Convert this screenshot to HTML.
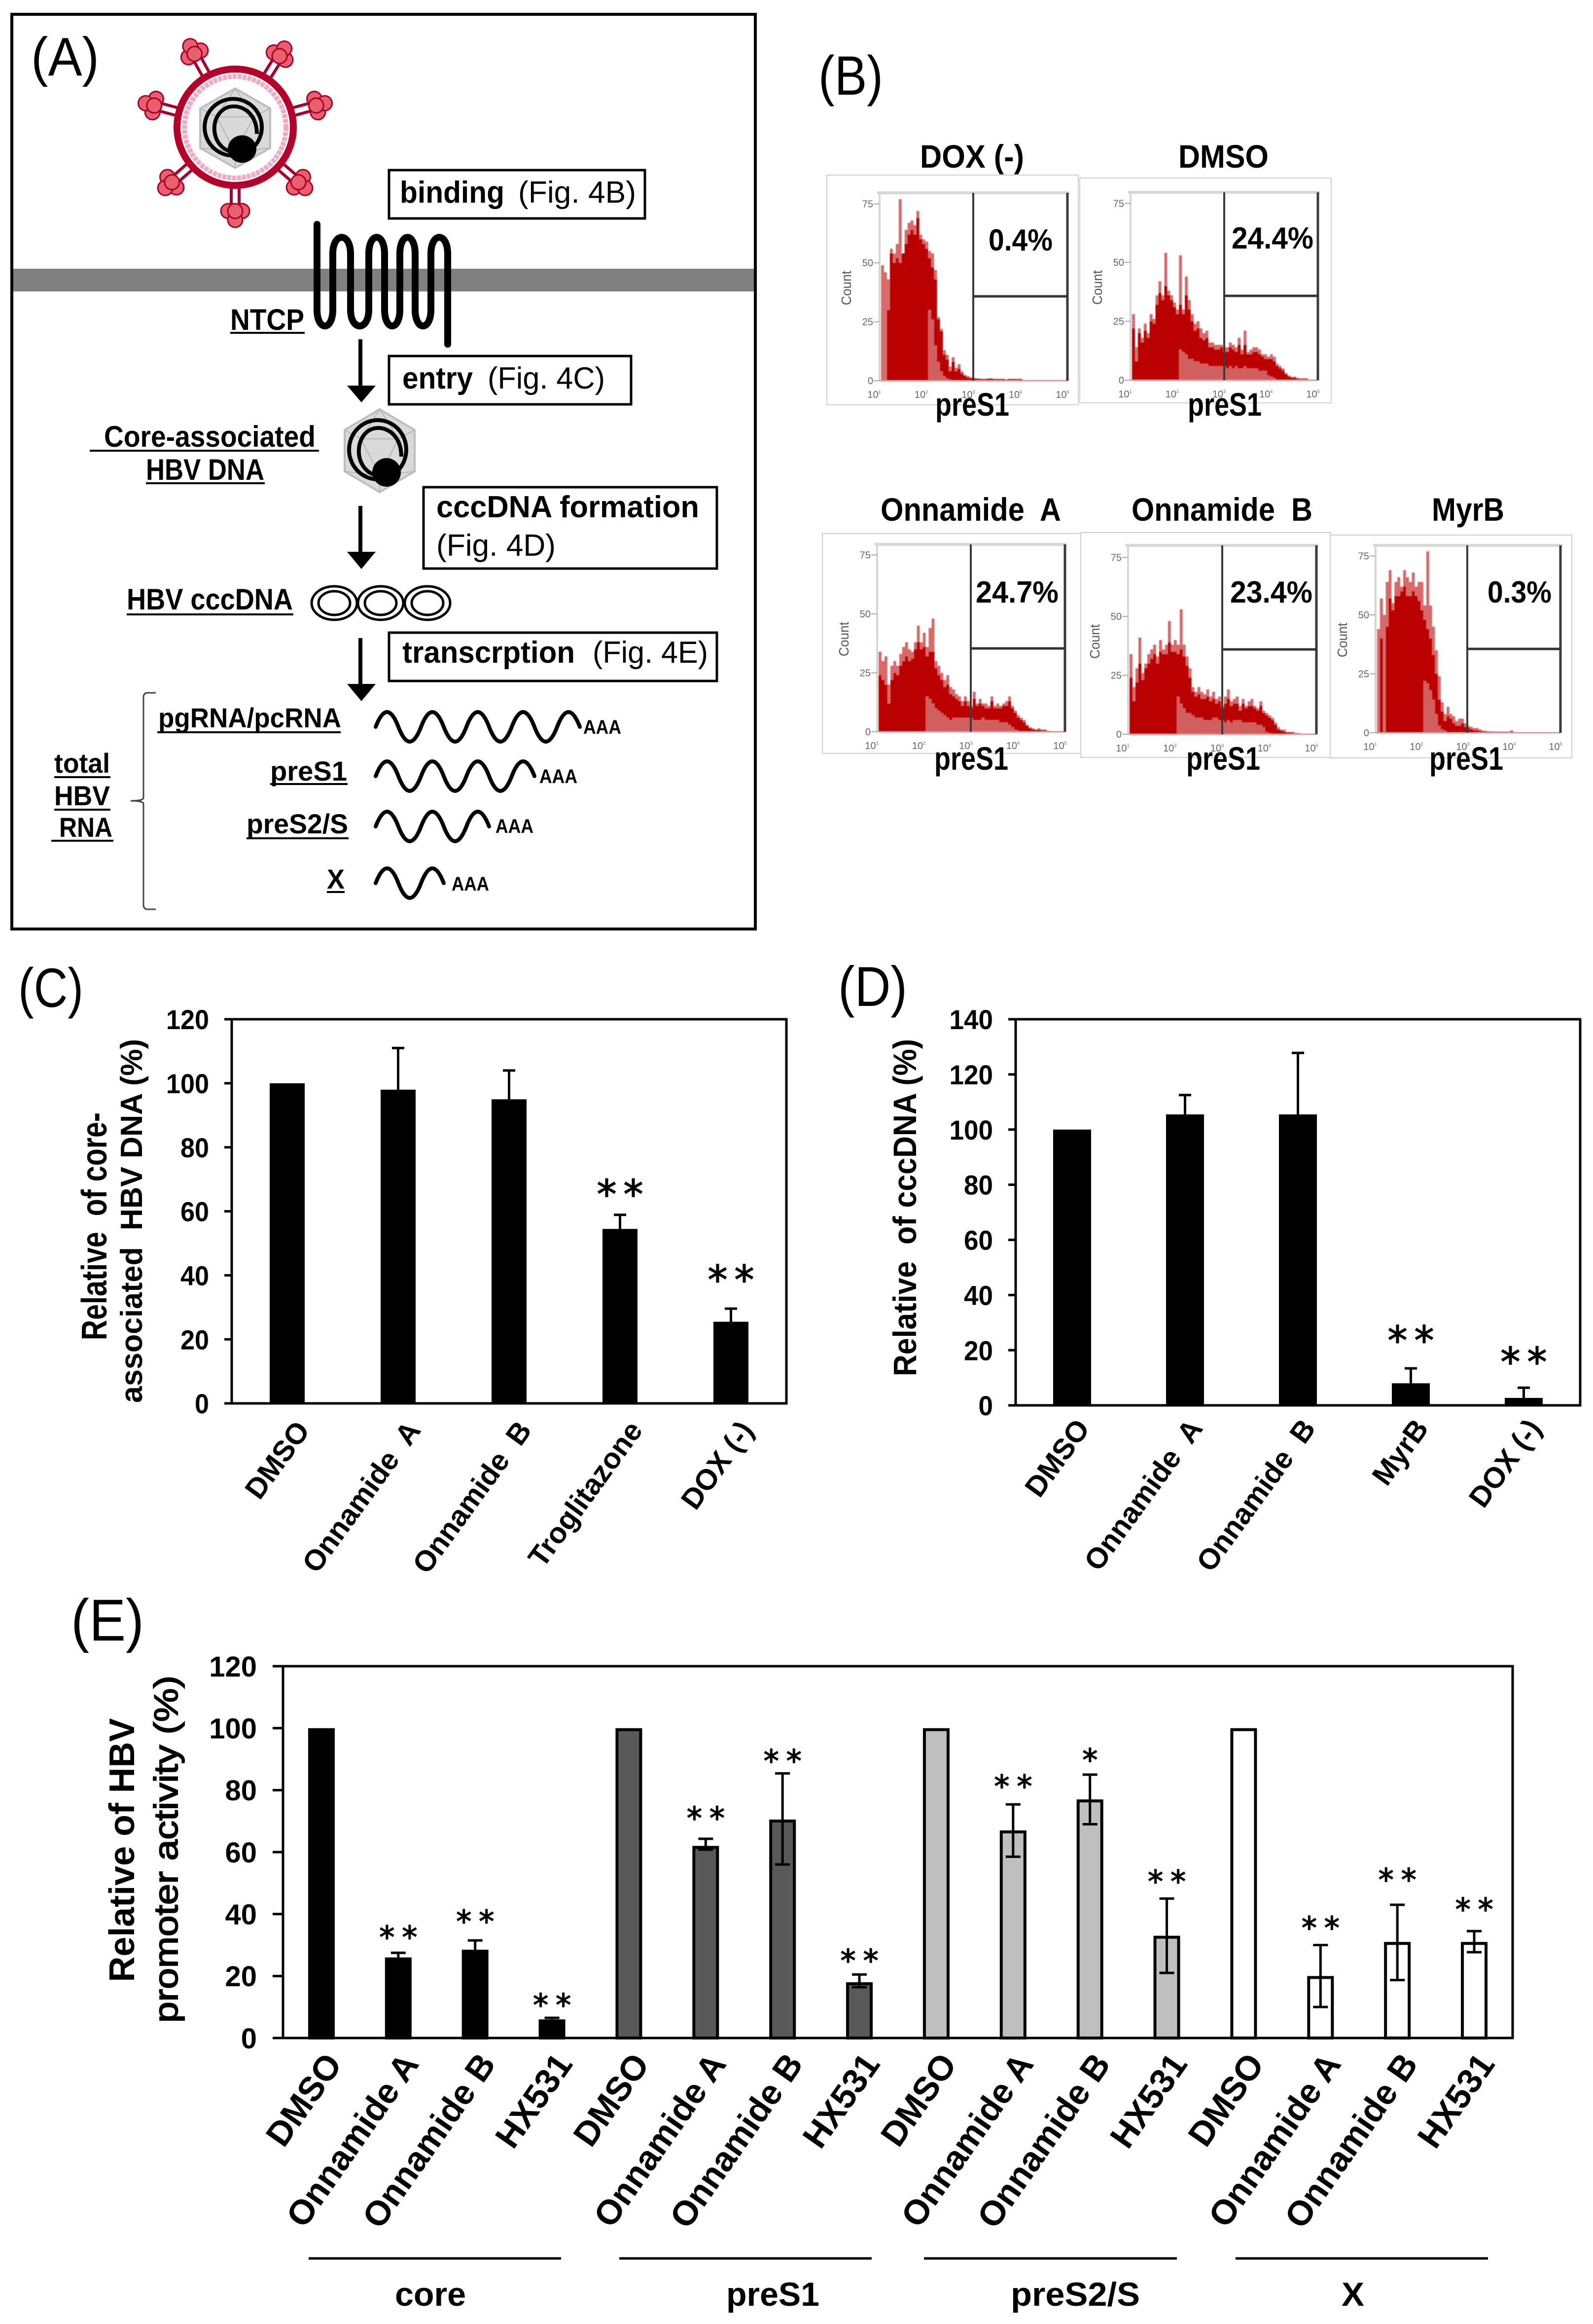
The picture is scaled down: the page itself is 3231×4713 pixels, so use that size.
<!DOCTYPE html>
<html lang="en">
<head>
<meta charset="utf-8">
<title>HBV life cycle and onnamide assays</title>
<style>
html,body{margin:0;padding:0;background:#fff;}
svg{display:block;}
text{font-family:"Liberation Sans",Arial,sans-serif;fill:#000;white-space:pre;}
.b{font-weight:700;}
.ul{stroke:#000;stroke-width:4;}
.star{font-family:"DejaVu Sans",sans-serif;}
</style>
</head>
<body>
<svg id="figure" xmlns="http://www.w3.org/2000/svg" width="3231" height="4713" viewBox="0 0 3231 4713">
<defs>
  <filter id="soft" x="-5%" y="-5%" width="110%" height="110%"><feGaussianBlur stdDeviation="0.9"/></filter>
  <g id="capsid">
    <polygon points="0,-84 71,-42 71,42 0,84 -71,42 -71,-42" fill="#d9d9d9" stroke="#bdbdbd" stroke-width="4"/>
    <path d="M0,-84 L-38,-24 L38,-24 Z M-71,-42 L-38,-24 M71,-42 L38,-24 M-38,-24 L0,50 L38,-24 M0,50 L0,84 M-71,42 L0,50 L71,42" fill="none" stroke="#b5b5b5" stroke-width="2"/>
    <ellipse cx="-4" cy="-2" rx="58" ry="60" fill="none" stroke="#000" stroke-width="8"/>
    <path d="M44,12 C44,-28 18,-48 -6,-46 C-30,-44 -44,-20 -42,6 C-40,28 -26,46 -6,50" fill="none" stroke="#000" stroke-width="8"/>
    <circle cx="14" cy="44" r="29" fill="#000"/>
  </g>
  <g id="spike">
    <line x1="-8" y1="0" x2="-8" y2="-50" stroke="#a8002a" stroke-width="6"/>
    <line x1="8" y1="0" x2="8" y2="-50" stroke="#a8002a" stroke-width="6"/>
    <circle cx="-14" cy="-58" r="15" fill="#e8606c" stroke="#a8002a" stroke-width="3"/>
    <circle cx="14" cy="-58" r="15" fill="#e8606c" stroke="#a8002a" stroke-width="3"/>
    <circle cx="0" cy="-76" r="15" fill="#e8606c" stroke="#a8002a" stroke-width="3"/>
    <circle cx="0" cy="-58" r="15" fill="#e8606c" stroke="#a8002a" stroke-width="3"/>
  </g>
</defs>
<rect x="0" y="0" width="3231" height="4713" fill="#fff"/>

<!-- PANEL A -->
<g id="panel-a">
  <rect x="24" y="545" width="1506" height="46" fill="#808080"/>
  <rect x="24" y="29" width="1508" height="1855" fill="none" stroke="#000" stroke-width="6"/>
  <text x="63" y="153" font-size="110" textLength="138" lengthAdjust="spacingAndGlyphs">(A)</text>

  <g>
    <g fill="none">
      <use href="#spike" transform="translate(477,258) rotate(-29) translate(0,-112)"/>
      <use href="#spike" transform="translate(477,258) rotate(32) translate(0,-112)"/>
      <use href="#spike" transform="translate(477,258) rotate(75) translate(0,-112)"/>
      <use href="#spike" transform="translate(477,258) rotate(-75) translate(0,-112)"/>
      <use href="#spike" transform="translate(477,258) rotate(-131) translate(0,-112)"/>
      <use href="#spike" transform="translate(477,258) rotate(131) translate(0,-112)"/>
      <use href="#spike" transform="translate(477,258) rotate(180) translate(0,-112)"/>
    </g>
    <circle cx="477" cy="258" r="118" fill="#fff" stroke="#b5002a" stroke-width="14"/>
    <circle cx="477" cy="258" r="103" fill="none" stroke="#f7a8c0" stroke-width="10" stroke-dasharray="8 2"/>
    <use href="#capsid" transform="translate(477,260) scale(1,0.96)"/>
  </g>

  <g>
    <rect x="789" y="345" width="519" height="98" fill="#fff" stroke="#000" stroke-width="5"/>
    <text class="b" x="811" y="411" font-size="62" textLength="212" lengthAdjust="spacingAndGlyphs">binding</text>
    <text x="1051" y="411" font-size="62" textLength="239" lengthAdjust="spacingAndGlyphs">(Fig. 4B)</text>
  </g>

  <path d="M643,455 V628 C643,672 675,672 675,628 V515 C675,470 711,470 711,515 V628 C711,672 748,672 748,628 V515 C748,470 780,470 780,515 V628 C780,672 811,672 811,628 V515 C811,470 842,470 842,515 V628 C842,672 874,672 874,628 V515 C874,470 908,470 908,515 V698" fill="none" stroke="#000" stroke-width="14" stroke-linecap="round"/>
  <text class="b" x="467" y="669" font-size="60" textLength="150" lengthAdjust="spacingAndGlyphs">NTCP</text>
  <line class="ul" x1="467" y1="675" x2="618" y2="675"/>

  <g>
    <rect x="727" y="688" width="8" height="98" fill="#000"/>
    <polygon points="704,782 762,782 733,816" fill="#000"/>
  </g>
  <g>
    <rect x="789" y="722" width="491" height="98" fill="#fff" stroke="#000" stroke-width="5"/>
    <text class="b" x="816" y="788" font-size="62" textLength="143" lengthAdjust="spacingAndGlyphs">entry</text>
    <text x="989" y="788" font-size="62" textLength="238" lengthAdjust="spacingAndGlyphs">(Fig. 4C)</text>
  </g>

  <text class="b" x="211" y="906" font-size="60" textLength="429" lengthAdjust="spacingAndGlyphs">Core-associated</text>
  <line class="ul" x1="182" y1="914" x2="647" y2="914"/>
  <text class="b" x="296" y="973" font-size="60" textLength="240" lengthAdjust="spacingAndGlyphs">HBV DNA</text>
  <line class="ul" x1="296" y1="980" x2="537" y2="980"/>
  <use href="#capsid" transform="translate(770,914)"/>

  <g>
    <rect x="859" y="988" width="595" height="165" fill="#fff" stroke="#000" stroke-width="5"/>
    <text class="b" x="885" y="1049" font-size="62" textLength="533" lengthAdjust="spacingAndGlyphs">cccDNA formation</text>
    <text x="885" y="1127" font-size="62" textLength="242" lengthAdjust="spacingAndGlyphs">(Fig. 4D)</text>
  </g>
  <g>
    <rect x="727" y="1026" width="8" height="96" fill="#000"/>
    <polygon points="704,1119 762,1119 733,1154" fill="#000"/>
  </g>

  <text class="b" x="257" y="1236" font-size="60" textLength="337" lengthAdjust="spacingAndGlyphs">HBV cccDNA</text>
  <line class="ul" x1="257" y1="1246" x2="595" y2="1246"/>
  <g fill="none" stroke="#000" stroke-width="5">
    <ellipse cx="678" cy="1223" rx="46" ry="34"/><ellipse cx="678" cy="1223" rx="32" ry="24"/>
    <ellipse cx="772" cy="1223" rx="46" ry="34"/><ellipse cx="772" cy="1223" rx="32" ry="24"/>
    <ellipse cx="867" cy="1223" rx="46" ry="34"/><ellipse cx="867" cy="1223" rx="32" ry="24"/>
  </g>

  <g>
    <rect x="789" y="1283" width="665" height="98" fill="#fff" stroke="#000" stroke-width="5"/>
    <text class="b" x="816" y="1344" font-size="62" textLength="350" lengthAdjust="spacingAndGlyphs">transcrption</text>
    <text x="1202" y="1344" font-size="62" textLength="234" lengthAdjust="spacingAndGlyphs">(Fig. 4E)</text>
  </g>
  <g>
    <rect x="727" y="1294" width="8" height="96" fill="#000"/>
    <polygon points="704,1387 762,1387 733,1422" fill="#000"/>
  </g>

  <path d="M316,1405 H300 Q291,1405 291,1414 V1618 Q291,1624 265,1624 Q291,1624 291,1630 V1835 Q291,1844 300,1844 H316" fill="none" stroke="#444" stroke-width="3"/>

  <text class="b" x="110" y="1567" font-size="56" textLength="113" lengthAdjust="spacingAndGlyphs">total</text>
  <line class="ul" x1="110" y1="1576" x2="224" y2="1576"/>
  <text class="b" x="110" y="1633" font-size="56" textLength="113" lengthAdjust="spacingAndGlyphs">HBV</text>
  <line class="ul" x1="110" y1="1642" x2="224" y2="1642"/>
  <text class="b" x="120" y="1697" font-size="56" textLength="108" lengthAdjust="spacingAndGlyphs">RNA</text>
  <line class="ul" x1="104" y1="1705" x2="230" y2="1705"/>

  <text class="b" x="321" y="1475" font-size="56" textLength="371" lengthAdjust="spacingAndGlyphs">pgRNA/pcRNA</text>
  <line class="ul" x1="319" y1="1485" x2="691" y2="1485"/>
  <text class="b" x="548" y="1583" font-size="56" textLength="156" lengthAdjust="spacingAndGlyphs">preS1</text>
  <line class="ul" x1="548" y1="1590" x2="705" y2="1590"/>
  <text class="b" x="500" y="1690" font-size="56" textLength="206" lengthAdjust="spacingAndGlyphs">preS2/S</text>
  <line class="ul" x1="500" y1="1700" x2="707" y2="1700"/>
  <text class="b" x="663" y="1802" font-size="56" textLength="36" lengthAdjust="spacingAndGlyphs">X</text>
  <line class="ul" x1="663" y1="1809" x2="699" y2="1809"/>

  <g fill="none" stroke="#000" stroke-width="8" stroke-linecap="round">
    <path d="M762,1474 q23,-60 46,0 t46,0 t46,0 t46,0 t46,0 t46,0 t46,0 t46,0 t46,0"/>
    <path d="M762,1574 q23,-60 46,0 t46,0 t46,0 t46,0 t46,0 t46,0 t46,0"/>
    <path d="M762,1676 q23,-60 46,0 t46,0 t46,0 t46,0 t46,0"/>
    <path d="M762,1791 q23,-60 46,0 t46,0 t46,0"/>
  </g>
  <text class="b" x="1183" y="1488" font-size="40" textLength="77" lengthAdjust="spacingAndGlyphs">AAA</text>
  <text class="b" x="1094" y="1588" font-size="40" textLength="77" lengthAdjust="spacingAndGlyphs">AAA</text>
  <text class="b" x="1005" y="1689" font-size="40" textLength="77" lengthAdjust="spacingAndGlyphs">AAA</text>
  <text class="b" x="916" y="1806" font-size="40" textLength="76" lengthAdjust="spacingAndGlyphs">AAA</text>
</g>

<!-- PANEL B -->
<text x="1660" y="192" font-size="112" textLength="131" lengthAdjust="spacingAndGlyphs">(B)</text>
<g id="flow-panels"></g>

<!-- PANEL C -->
<text x="37" y="2042" font-size="112" textLength="132" lengthAdjust="spacingAndGlyphs">(C)</text>
<g id="chart-c"></g>
<text class="b" transform="translate(216,2487) rotate(-90)" text-anchor="middle" font-size="72" textLength="462" lengthAdjust="spacingAndGlyphs">Relative  of core-</text>
<text class="b" transform="translate(288,2476) rotate(-90)" text-anchor="middle" font-size="62" textLength="738" lengthAdjust="spacingAndGlyphs">associated  HBV DNA (%)</text>

<!-- PANEL D -->
<text x="1700" y="2040" font-size="114" textLength="140" lengthAdjust="spacingAndGlyphs">(D)</text>
<g id="chart-d"></g>
<text class="b" transform="translate(1858,2449) rotate(-90)" text-anchor="middle" font-size="66" textLength="684" lengthAdjust="spacingAndGlyphs">Relative  of cccDNA (%)</text>

<!-- PANEL E -->
<text x="144" y="3327" font-size="120" textLength="148" lengthAdjust="spacingAndGlyphs">(E)</text>
<g id="chart-e"></g>
<text class="b" transform="translate(272,3752) rotate(-90)" text-anchor="middle" font-size="72" textLength="535" lengthAdjust="spacingAndGlyphs">Relative of HBV</text>
<text transform="translate(360,3750) rotate(-90)" text-anchor="middle" font-size="68" textLength="704" lengthAdjust="spacingAndGlyphs" stroke="#000" stroke-width="2">promoter activity (%)</text>
<g stroke="#000" stroke-width="5">
  <line x1="626" y1="4580" x2="1138" y2="4580"/>
  <line x1="1256" y1="4580" x2="1768" y2="4580"/>
  <line x1="1874" y1="4580" x2="2387" y2="4580"/>
  <line x1="2506" y1="4580" x2="3018" y2="4580"/>
</g>
<text class="b" x="801" y="4676" font-size="68" textLength="144" lengthAdjust="spacingAndGlyphs">core</text>
<text class="b" x="1473" y="4676" font-size="68" textLength="189" lengthAdjust="spacingAndGlyphs">preS1</text>
<text class="b" x="2050" y="4676" font-size="68" textLength="262" lengthAdjust="spacingAndGlyphs">preS2/S</text>
<text class="b" x="2721" y="4676" font-size="68" textLength="46" lengthAdjust="spacingAndGlyphs">X</text>
</svg>

<script>
/* ---------- Panel C data ---------- */
const cCategories = ['DMSO', 'Onnamide  A', 'Onnamide  B', 'Troglitazone', 'DOX (-)'];
const cValues = [100, 98, 95, 54.5, 25.5];
const cErrorTop = [null, 111, 104, 58.9, 29.6];
const cErrorBottom = [null, null, null, null, null];
const cStarMarks = ['', '', '', '**', '**'];
const cStarLevels = [null, null, null, 67.2, 40.4];
const cTicks = [0, 20, 40, 60, 80, 100, 120];

/* ---------- Panel D data ---------- */
const dCategories = ['DMSO', 'Onnamide  A', 'Onnamide  B', 'MyrB', 'DOX (-)'];
const dValues = [100, 105.5, 105.5, 8, 2.7];
const dErrorTop = [null, 112.5, 127.8, 13.4, 6.4];
const dErrorBottom = [null, null, null, null, null];
const dStarMarks = ['', '', '', '**', '**'];
const dStarLevels = [null, null, null, 25.7, 17.9];
const dTicks = [0, 20, 40, 60, 80, 100, 120, 140];

/* ---------- Panel E data ---------- */
const eCategories = ['DMSO', 'Onnamide A', 'Onnamide B', 'HX531', 'DMSO', 'Onnamide A', 'Onnamide B', 'HX531', 'DMSO', 'Onnamide A', 'Onnamide B', 'HX531', 'DMSO', 'Onnamide A', 'Onnamide B', 'HX531'];
const eValues = [100, 26, 28.5, 6, 100, 62, 70.5, 18, 100, 67, 77, 33, 100, 20, 31, 31];
const eErrorTop = [null, 27.5, 31.5, 6.5, null, 64.3, 85.4, 20.5, null, 75.4, 85, 45, null, 30, 43, 34.5];
const eErrorBottom = [null, null, null, null, null, 60.8, 56, 16.4, null, 58.5, 69, 21, null, 10, 18.7, 27.7];
const eStarMarks = ['', '**', '**', '**', '', '**', '**', '**', '', '**', '*', '**', '', '**', '**', '**'];
const eStarLevels = [null, 34, 39.1, 12.1, null, 72.4, 90.9, 26.4, null, 82.7, 91.2, 52, null, 37, 52.5, 43];
const eTicks = [0, 20, 40, 60, 80, 100, 120];

/* ---------- Panel B data: counts per histogram bin (16 bins per decade) ---------- */
const flowTicks = [0, 25, 50, 75];
const flowExponents = ['1', '2', '3', '4', '5'];

const doxPeak = [49,46,43,56,54,58,77,54,64,67,68,66,72,62,60,59,55,54,47,27,22,13,11,6,10,5.5,7,4,2.5,2,1.5,1.2,1,1,0.8,0.8,1,1,0.8,0.8,0.8,0.8,0.6,0.8,0.8,0.8,0.8,0.8,0,0,0,0,0,0,0,0,0,0,0,0,0,0,0,0];
const doxBody = [0,0,30,54,50,52,50,54,58,62,64,62,69,60,58,56,52,48,43,26,21,11,9,4,8,4,5,3,2,1.2,1,1,0.8,0.6,0.6,0.6,0.8,0.8,0.6,0.6,0.6,0.6,0.4,0.6,0.6,0.6,0.6,0.6,0,0,0,0,0,0,0,0,0,0,0,0,0,0,0,0];
const doxInner = [30,26,15,8,4,2,1,0.5];

const dmsoPeak = [28,14,22,18,24,20,28,26,36,42,36,54,38,36,33,30,53,30,44,34,28,24,25,22,20,21,16,16,15,15,15,14,14,16,15,14,18,13,21,12,13,14,14,13,11,11,10,11,10,7,6,5,3,2,1.5,1.5,1,0.8,0.8,0.8,0,0,0,0];
const dmsoBody = [22,8,20,16,21,18,25,24,32,37,34,40,36,34,31,28,32,28,36,30,25,21,22,18,17,18,14,14,13,13,14,12,12,14,13,12,15,11,15,11,11,12,12,11,10,9,9,9,8,6,5,4,2.5,1.5,1,1,0.6,0.5,0.5,0.5,0,0,0,0];
const dmsoInner = [13,12,11,9,9,8,8,7,7,7,6,6,6,6,6,6,5,6,5,6,5,5,6,5,5,5,5,4,4,4,2,1.5,1];

const onnAPeak = [34,30,32,20,28,30,28,33,36,38,35,34,38,45,38,42,36,44,48,30,28,25,22,24,19,18,16,15,13,15,13,11,17,12,14,12,12,11,15,11,12,11,12,13,15,11,9,7,6,5,3,2,1.5,1,1.5,1,1,0.5,0,0,0,0,0,0];
const onnABody = [24,22,20,12,22,25,24,28,30,32,30,31,35,38,35,36,32,34,34,27,24,22,19,20,16,15,14,13,11,13,11,10,14,11,12,11,10,10,13,10,10,10,11,11,13,10,8,6,5,4,2.5,1.5,1,0.8,0.8,0.6,0.6,0.3,0,0,0,0,0,0];
const onnAInner = [15,14,12,10,9,8,7,6,5,6,6,6,6,6,6,6,5,5,5,6,5,5,5,5,5,4,4,4,3,2,1,0.5];

const onnBPeak = [34,20,28,41,26,30,34,36,38,33,40,36,38,48,38,40,38,53,38,33,28,20,18,20,18,17,19,16,18,15,16,12,16,19,14,15,16,12,15,12,14,15,12,11,14,10,9,8,7,5,3,2,2,1,1,1,0.5,0.5,0,0,0,0,0,0];
const onnBBody = [24,14,22,30,23,28,30,32,34,30,35,34,34,39,35,35,34,36,33,29,24,18,16,17,15,15,16,14,15,13,14,11,13,15,12,13,13,10,13,11,12,12,11,10,12,9,8,7,6,4,2,1.5,1,0.7,0.7,0.5,0.3,0,0,0,0,0,0,0];
const onnBInner = [16,13,11,9,9,8,7,7,7,6,6,6,7,7,6,6,5,6,5,6,6,6,5,5,5,5,5,4,4,3,1,0.5];

const myrBPeak = [44,57,50,64,69,55,64,66,62,69,66,64,68,62,64,64,54,77,54,45,35,24,13,8,11,8,7,5,6,6,4,3,2.5,2,2,1.5,1,0.8,0.6,0.6,0.5,0.5,0.5,0.5,0.5,0.5,1,0,0,0,0,0,0,0,0,0,0,0,0,0,0,0,0,0];
const myrBBody = [0,40,0,45,57,52,58,58,60,62,58,58,60,58,56,52,48,44,40,33,25,14,9,5,7,6,4,3,3,4,2.5,2,1.5,1,1,0.7,0.5,0.5,0.4,0.4,0.4,0.4,0.4,0.4,0.3,0.3,0.5,0,0,0,0,0,0,0,0,0,0,0,0,0,0,0,0,0];
const myrBInner = [22,21,18,14,8,3,1.5,1];

/* ---------- Drawing helpers ---------- */
const SVG_NS = 'http://www.w3.org/2000/svg';
function mk(tag, parent, attrs) {
  const el = document.createElementNS(SVG_NS, tag);
  for (const k in attrs) el.setAttribute(k, attrs[k]);
  parent.appendChild(el);
  return el;
}

function drawBarChart(o) {
  const root = document.getElementById(o.id);
  const plotH = o.bottom - o.top;
  const band = (o.right - o.left) / o.categories.length;
  const yOf = v => o.bottom - v / o.yMax * plotH;
  const xOf = i => o.left + (i + 0.5) * band;

  o.ticks.forEach(t => {
    const tick = mk('line', root, {x1: o.left - o.tickLen, x2: o.left, y1: yOf(t), y2: yOf(t), stroke: '#000', 'stroke-width': 5});
    
    
    const lab = mk('text', root, {x: o.left - o.tickGap, y: yOf(t) + o.tickFont * 0.36, 'text-anchor': 'end', 'font-size': o.tickFont, 'font-weight': 700});
    if (o.tickDigitWidth) {
      lab.setAttribute('textLength', String(t).length * o.tickDigitWidth);
      lab.setAttribute('lengthAdjust', 'spacingAndGlyphs');
    }
    lab.textContent = String(t);
    
    
  });

  o.values.forEach((v, i) => {
    const cx = xOf(i);
    const fill = o.fillOf(i);
    const sw = o.barStroke;
    const bar = mk('rect', root, {x: cx - o.barWidth / 2 + sw / 2, y: yOf(v) + sw / 2, width: o.barWidth - sw, height: Math.max(0, yOf(0) - yOf(v) - sw / 2), fill: fill, stroke: '#000', 'stroke-width': sw});
    
    

    const hi = o.errorTop[i];
    if (hi !== null) {
      const lo = o.errorBottom[i];
      const yEnd = lo === null ? yOf(v) : yOf(lo);
      const err = mk('path', root, {d: 'M' + cx + ',' + yEnd + ' V' + yOf(hi) + ' M' + (cx - o.capWidth / 2) + ',' + yOf(hi) + ' H' + (cx + o.capWidth / 2) + (lo === null ? '' : ' M' + (cx - o.capWidth / 2) + ',' + yOf(lo) + ' H' + (cx + o.capWidth / 2)), fill: 'none', stroke: '#000', 'stroke-width': 5});
      
      
    }

    const marks = o.starMarks[i];
    if (marks) {
      const xs = marks.length === 2 ? (cx - o.starGap / 2) + ' ' + (cx + o.starGap / 2) : String(cx);
      const star = mk('text', root, {x: xs, y: yOf(o.starLevels[i]) + o.starFont * 0.5, 'text-anchor': 'middle', 'font-size': o.starFont, 'class': 'star', stroke: '#000', 'stroke-width': 1.6});
      star.textContent = marks;
      
      
    }

    const lx = cx + o.labelDx;
    const ly = o.bottom + o.labelDy;
    const cat = mk('text', root, {x: lx, y: ly, transform: 'rotate(' + (-o.labelAngle) + ' ' + lx + ' ' + ly + ')', 'text-anchor': 'end', 'font-size': o.labelFont, 'font-weight': 700});
    cat.textContent = o.categories[i];
    
    
  });

  const frame = mk('rect', root, {x: o.left, y: o.top, width: o.right - o.left, height: plotH, fill: 'none', stroke: '#000', 'stroke-width': 5});
  
  
}

function stepArea(values, startBin, binW, left, bottom, yOf) {
  let d = 'M' + (left + startBin * binW) + ',' + bottom;
  values.forEach((v, i) => {
    const x0 = left + (startBin + i) * binW;
    d += ' L' + x0 + ',' + yOf(v) + ' L' + (x0 + binW) + ',' + yOf(v);
  });
  const xEnd = left + (startBin + values.length) * binW;
  return d + ' L' + xEnd + ',' + bottom + ' Z';
}

function drawFlow(o) {
  const root = document.getElementById('flow-panels');
  const g = mk('g', root, {});
  
  

  const box = mk('rect', g, {x: o.box[0], y: o.box[1], width: o.box[2] - o.box[0], height: o.box[3] - o.box[1], fill: '#fff', stroke: '#cfcfcf', 'stroke-width': 2});
  
  

  const yOf = c => o.bottom - c * 4.78;
  const binW = (o.right - o.left) / o.peak.length;
  const decade = (o.right - o.left) / 4;

  const axisY = mk('line', g, {x1: o.left, x2: o.left, y1: o.top, y2: o.bottom, stroke: '#d6d6d6', 'stroke-width': 4});
  
  
  const topRule = mk('line', g, {x1: o.left - 5, x2: o.right + 3, y1: o.top, y2: o.top, stroke: '#d8d8d8', 'stroke-width': 6});
  
  

  const marks = mk('g', g, {filter: 'url(#soft)'});
  
  

  const peak = mk('path', marks, {d: stepArea(o.peak, 0, binW, o.left + 3, o.bottom, yOf), fill: '#d86a6a'});
  
  
  const body = mk('path', marks, {d: stepArea(o.body, 0, binW, o.left + 3, o.bottom, yOf), fill: '#bb0000'});
  
  
  const inner = mk('path', marks, {d: stepArea(o.inner, 16, binW, o.left + 3, o.bottom, yOf), fill: '#d25f5f'});
  
  

  const base = mk('line', g, {x1: o.left, x2: o.right, y1: o.bottom, y2: o.bottom, stroke: '#e09a9a', 'stroke-width': 3});
  
  

  const gateV = mk('line', g, {x1: o.gateX, x2: o.gateX, y1: o.top, y2: o.bottom, stroke: '#3a3a3a', 'stroke-width': 4});
  
  
  const gateR = mk('line', g, {x1: o.right - 1, x2: o.right - 1, y1: o.top, y2: o.bottom, stroke: '#3a3a3a', 'stroke-width': 5});
  
  
  const gateH = mk('line', g, {x1: o.gateX, x2: o.right, y1: o.gateY, y2: o.gateY, stroke: '#333', 'stroke-width': 5});
  
  

  flowTicks.forEach(t => {
    const tk = mk('line', g, {x1: o.left - 12, x2: o.left, y1: yOf(t), y2: yOf(t), stroke: '#aaa', 'stroke-width': 2});
    
    
    const lb = mk('text', g, {x: o.left - 13, y: yOf(t) + 7, 'text-anchor': 'end', 'font-size': 20, style: 'fill:#666'});
    lb.textContent = String(t);
    
    
  });

  flowExponents.forEach((ex, i) => {
    const tx = o.left + i * decade;
    const lb = mk('text', g, {x: tx - 11, y: o.bottom + 35, 'text-anchor': 'middle', 'font-size': 20, style: 'fill:#666'});
    lb.textContent = '10';
    
    
    const sup = mk('tspan', lb, {dy: -9, 'font-size': 9});
    sup.textContent = ex;
    
    
  });

  const cnt = mk('text', g, {x: o.left - 58, y: o.bottom - 188, transform: 'rotate(-90 ' + (o.left - 58) + ' ' + (o.bottom - 188) + ')', 'text-anchor': 'middle', 'font-size': 28, textLength: 70, lengthAdjust: 'spacingAndGlyphs', style: 'fill:#555'});
  cnt.textContent = 'Count';
  
  

  const title = mk('text', g, {x: o.titleX, y: o.titleY, 'font-size': 66, 'font-weight': 700, textLength: o.titleLen, lengthAdjust: 'spacingAndGlyphs'});
  title.textContent = o.title;
  
  

  const pct = mk('text', g, {x: o.pctX, y: o.pctY, 'font-size': 62, 'font-weight': 700, textLength: o.pctLen, lengthAdjust: 'spacingAndGlyphs'});
  pct.textContent = o.percent;
  
  

  const xt = mk('text', g, {x: o.xLabelX, y: o.xLabelY, 'font-size': 66, 'font-weight': 700, textLength: 150, lengthAdjust: 'spacingAndGlyphs'});
  xt.textContent = 'preS1';
  
  
}

/* ---------- Build panel B ---------- */
drawFlow({slug:'dox', title:'DOX (-)', percent:'0.4%', peak:doxPeak, body:doxBody, inner:doxInner,
  box:[1677,355,2187,821], left:1784, right:2166, top:391, bottom:772, gateX:1974, gateY:601,
  titleX:1866, titleY:340, titleLen:211, pctX:2005, pctY:508, pctLen:130, xLabelX:1897, xLabelY:843});
drawFlow({slug:'dmso', title:'DMSO', percent:'24.4%', peak:dmsoPeak, body:dmsoBody, inner:dmsoInner,
  box:[2190,361,2700,817], left:2293, right:2674, top:390, bottom:771, gateX:2483, gateY:600,
  titleX:2390, titleY:340, titleLen:183, pctX:2498, pctY:504, pctLen:166, xLabelX:2409, xLabelY:843});
drawFlow({slug:'onnamide-a', title:'Onnamide  A', percent:'24.7%', peak:onnAPeak, body:onnABody, inner:onnAInner,
  box:[1668,1082,2192,1528], left:1779, right:2161, top:1104, bottom:1484, gateX:1969, gateY:1315,
  titleX:1786, titleY:1056, titleLen:366, pctX:1979, pctY:1222, pctLen:168, xLabelX:1895, xLabelY:1561});
drawFlow({slug:'onnamide-b', title:'Onnamide  B', percent:'23.4%', peak:onnBPeak, body:onnBBody, inner:onnBInner,
  box:[2192,1080,2698,1536], left:2288, right:2671, top:1106, bottom:1489, gateX:2479, gateY:1317,
  titleX:2295, titleY:1056, titleLen:367, pctX:2495, pctY:1222, pctLen:167, xLabelX:2406, xLabelY:1561});
drawFlow({slug:'myrb', title:'MyrB', percent:'0.3%', peak:myrBPeak, body:myrBBody, inner:myrBInner,
  box:[2698,1085,3188,1537], left:2790, right:3166, top:1106, bottom:1486, gateX:2976, gateY:1316,
  titleX:2904, titleY:1056, titleLen:147, pctX:3017, pctY:1222, pctLen:130, xLabelX:2899, xLabelY:1561});

/* ---------- Build panel C ---------- */
drawBarChart({id:'chart-c', categories:cCategories, values:cValues, errorTop:cErrorTop, errorBottom:cErrorBottom,
  starMarks:cStarMarks, starLevels:cStarLevels, ticks:cTicks, yMax:120,
  left:470, right:1595, top:2067, bottom:2846, barWidth:71, barStroke:0, capWidth:25,
  fillOf:function(){return '#000';}, tickLen:15, tickGap:46, tickFont:56, tickDigitWidth:29,
  labelDx:48, labelDy:55, labelAngle:54, labelFont:59, starFont:80, starGap:54});

/* ---------- Build panel D ---------- */
drawBarChart({id:'chart-d', categories:dCategories, values:dValues, errorTop:dErrorTop, errorBottom:dErrorBottom,
  starMarks:dStarMarks, starLevels:dStarLevels, ticks:dTicks, yMax:140,
  left:2060, right:3205, top:2067, bottom:2850, barWidth:77, barStroke:0, capWidth:25,
  fillOf:function(){return '#000';}, tickLen:15, tickGap:46, tickFont:56, tickDigitWidth:29.5,
  labelDx:38, labelDy:47, labelAngle:54, labelFont:59, starFont:80, starGap:54});

/* ---------- Build panel E ---------- */
const eGroupFills = ['#000000', '#595959', '#bfbfbf', '#ffffff'];
drawBarChart({id:'chart-e', categories:eCategories, values:eValues, errorTop:eErrorTop, errorBottom:eErrorBottom,
  starMarks:eStarMarks, starLevels:eStarLevels, ticks:eTicks, yMax:120,
  left:574, right:3068, top:3379, bottom:4133, barWidth:54, barStroke:6, capWidth:30,
  fillOf:function(i){return eGroupFills[Math.floor(i / 4)];}, tickLen:21, tickGap:53, tickFont:58,
  labelDx:44, labelDy:53, labelAngle:55, labelFont:70, starFont:62, starGap:46});
</script>
</body>
</html>
